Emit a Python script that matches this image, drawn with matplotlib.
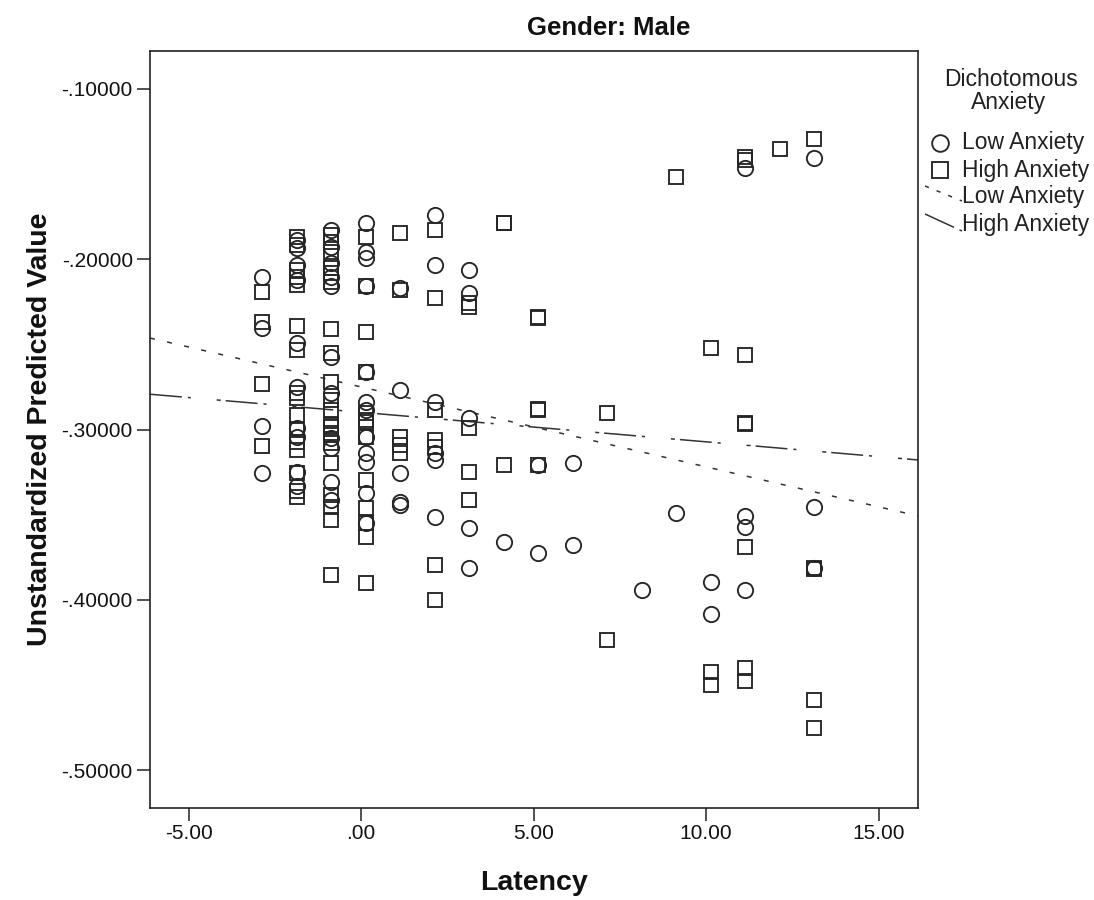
import matplotlib
matplotlib.use("Agg")
import matplotlib.pyplot as plt
from matplotlib.lines import Line2D

# ---------------- data ----------------
low_latency = (
    [-2.86] * 4 + [-1.86] * 10 + [-0.86] * 11 + [0.14] * 12 + [1.14] * 5 + [2.14] * 6
    + [3.14] * 5 + [4.14] * 1 + [5.14] * 2 + [6.14] * 2 + [8.14] * 1 + [9.14] * 1
    + [10.14] * 2 + [11.14] * 4 + [13.14] * 3
)
low_pred = [
    -0.2102, -0.2406, -0.2979, -0.3254,
    -0.1887, -0.1934, -0.2034, -0.2122, -0.2492, -0.2750, -0.2991, -0.3044, -0.3250, -0.3332,
    -0.1828, -0.1928, -0.2022, -0.2104, -0.2157, -0.2574, -0.2786, -0.3050, -0.3109, -0.3308, -0.3414,
    -0.1787, -0.1957, -0.1993, -0.2157, -0.2662, -0.2838, -0.2885, -0.3044, -0.3138, -0.3191, -0.3373, -0.3549,
    -0.2169, -0.2768, -0.3256, -0.3426, -0.3443,
    -0.1740, -0.2034, -0.2838, -0.3138, -0.3179, -0.3514,
    -0.2063, -0.2198, -0.2932, -0.3579, -0.3814,
    -0.3660,
    -0.3210, -0.3726,
    -0.3197, -0.3678,
    -0.3943,
    -0.3490,
    -0.3896, -0.4084,
    -0.1466, -0.3510, -0.3570, -0.3943,
    -0.1405, -0.3455, -0.3814,
]

high_latency = (
    [-2.86] * 4 + [-1.86] * 16 + [-0.86] * 21 + [0.14] * 13 + [1.14] * 5 + [2.14] * 7
    + [3.14] * 5 + [4.14] * 3 + [5.14] * 5 + [7.14] * 2 + [9.14] * 1 + [10.14] * 3
    + [11.14] * 8 + [12.14] * 1 + [13.14] * 5
)
high_pred = [
    -0.2190, -0.2367, -0.2733, -0.3097,
    -0.1869, -0.1916, -0.2063, -0.2104, -0.2151, -0.2392, -0.2533, -0.2786, -0.2815, -0.2915,
    -0.3003, -0.3075, -0.3121, -0.3256, -0.3362, -0.3397,
    -0.1858, -0.1899, -0.1957, -0.2051, -0.2081, -0.2134, -0.2410, -0.2551, -0.2721, -0.2827,
    -0.2885, -0.2974, -0.3032, -0.2985, -0.3021, -0.3079, -0.3197, -0.3385, -0.3455, -0.3532, -0.3855,
    -0.1869, -0.2157, -0.2427, -0.2662, -0.2903, -0.2944, -0.2956, -0.3044, -0.3297, -0.3461,
    -0.3549, -0.3631, -0.3902,
    -0.1846, -0.2181, -0.3044, -0.3091, -0.3138,
    -0.1828, -0.2228, -0.2885, -0.3062, -0.3103, -0.3796, -0.4001,
    -0.2257, -0.2281, -0.2991, -0.3250, -0.3414,
    -0.1787, -0.1790, -0.3209,
    -0.2339, -0.2345, -0.2880, -0.2886, -0.3210,
    -0.2903, -0.4236,
    -0.1517,
    -0.2521, -0.4424, -0.4501,
    -0.1400, -0.1420, -0.2562, -0.2962, -0.2968, -0.3690, -0.4400, -0.4480,
    -0.1352,
    -0.1294, -0.3814, -0.3820, -0.4589, -0.4753,
]

# fit lines (intercept, slope)
low_fit = (-0.2750, -0.004694)
high_fit = (-0.2899, -0.001734)

x_ticks = [-5, 0, 5, 10, 15]
x_tick_labels = ["-5.00", ".00", "5.00", "10.00", "15.00"]
y_ticks = [-0.5, -0.4, -0.3, -0.2, -0.1]
y_tick_labels = ["-.50000", "-.40000", "-.30000", "-.20000", "-.10000"]

legend_labels = ["Low Anxiety", "High Anxiety", "Low Anxiety", "High Anxiety"]

# ---------------- style ----------------
plt.rcParams["font.family"] = ["Liberation Sans", "DejaVu Sans"]
plt.rcParams["lines.scale_dashes"] = False

W, H = 1094, 900
fig = plt.figure(figsize=(W / 100, H / 100), dpi=100)
fig.patch.set_facecolor("white")

L, R, T, B = 150, 918, 51, 808
ax = fig.add_axes([L / W, 1 - B / H, (R - L) / W, (B - T) / H])

xlim = (-6.12, 16.14)
ylim = (-0.5223, -0.0777)
ax.set_xlim(*xlim)
ax.set_ylim(*ylim)

edge = "#262626"
ax.plot(low_latency, low_pred, linestyle="none", marker="o", markersize=11,
        markerfacecolor="none", markeredgecolor=edge, markeredgewidth=1.35, zorder=3)
ax.plot(high_latency, high_pred, linestyle="none", marker="s", markersize=10.5,
        markerfacecolor="none", markeredgecolor=edge, markeredgewidth=1.35, zorder=3)

low_dash = (0, (3.6, 9.0))
high_dash = (0, (23, 4.3, 2.2, 18.7, 2.9, 3.6))

xs = list(xlim)
ax.plot(xs, [low_fit[0] + low_fit[1] * x for x in xs], color="#333333", lw=1.1,
        linestyle=low_dash, zorder=2)
ax.plot(xs, [high_fit[0] + high_fit[1] * x for x in xs], color="#333333", lw=1.1,
        linestyle=high_dash, zorder=2)

ax.set_xticks(x_ticks)
ax.set_xticklabels(x_tick_labels)
ax.set_yticks(y_ticks)
ax.set_yticklabels(y_tick_labels)
ax.tick_params(axis="both", direction="out", length=9.4, width=1.1, color="#222222",
               labelsize=15, labelcolor="#111111")
ax.tick_params(axis="x", pad=2)
ax.tick_params(axis="y", pad=3)
for s in ax.spines.values():
    s.set_linewidth(1.2)
    s.set_color("#222222")

# labels
fig.text((L + R) / 2 / W, 1 - 883 / H, "Latency", ha="center", va="center",
         fontsize=20.5, fontweight="bold", color="#111111")
fig.text(40 / W, 1 - (T + B) / 2 / H, "Unstandardized Predicted Value", ha="center",
         va="center", rotation=90, fontsize=20.5, fontweight="bold", color="#111111")
fig.text(609 / W, 1 - 28 / H, "Gender: Male", ha="center", va="center",
         fontsize=18.5, fontweight="bold", color="#111111")

# legend (drawn manually, SPSS style)
fig.text(1011 / W, 1 - 80 / H, "Dichotomous", ha="center", va="center", fontsize=16.5,
         color="#222222")
fig.text(1009 / W, 1 - 103 / H, "Anxiety", ha="center", va="center", fontsize=16.5,
         color="#222222")
rows = [143, 170, 197, 225]
for yy, lab in zip(rows, legend_labels):
    fig.text(962 / W, 1 - yy / H, lab, ha="left", va="center", fontsize=16.5,
             color="#222222")
fig.add_artist(Line2D([940 / W], [1 - rows[0] / H], marker="o", markersize=12,
                      markerfacecolor="none", markeredgecolor=edge, markeredgewidth=1.35,
                      linestyle="none", transform=fig.transFigure))
fig.add_artist(Line2D([940 / W], [1 - rows[1] / H], marker="s", markersize=11.5,
                      markerfacecolor="none", markeredgecolor=edge, markeredgewidth=1.35,
                      linestyle="none", transform=fig.transFigure))
fig.add_artist(Line2D([925 / W, 962 / W], [1 - 186 / H, 1 - 201 / H], color="#333333",
                      lw=1.1, linestyle=(0, (3.0, 6.0)), transform=fig.transFigure))
fig.add_artist(Line2D([925 / W, 962 / W], [1 - 214 / H, 1 - 231 / H], color="#333333",
                      lw=1.1, linestyle=(0, (23, 4.3, 2.2, 18.7)), transform=fig.transFigure))

fig.savefig("out.png", dpi=100, facecolor="white")
